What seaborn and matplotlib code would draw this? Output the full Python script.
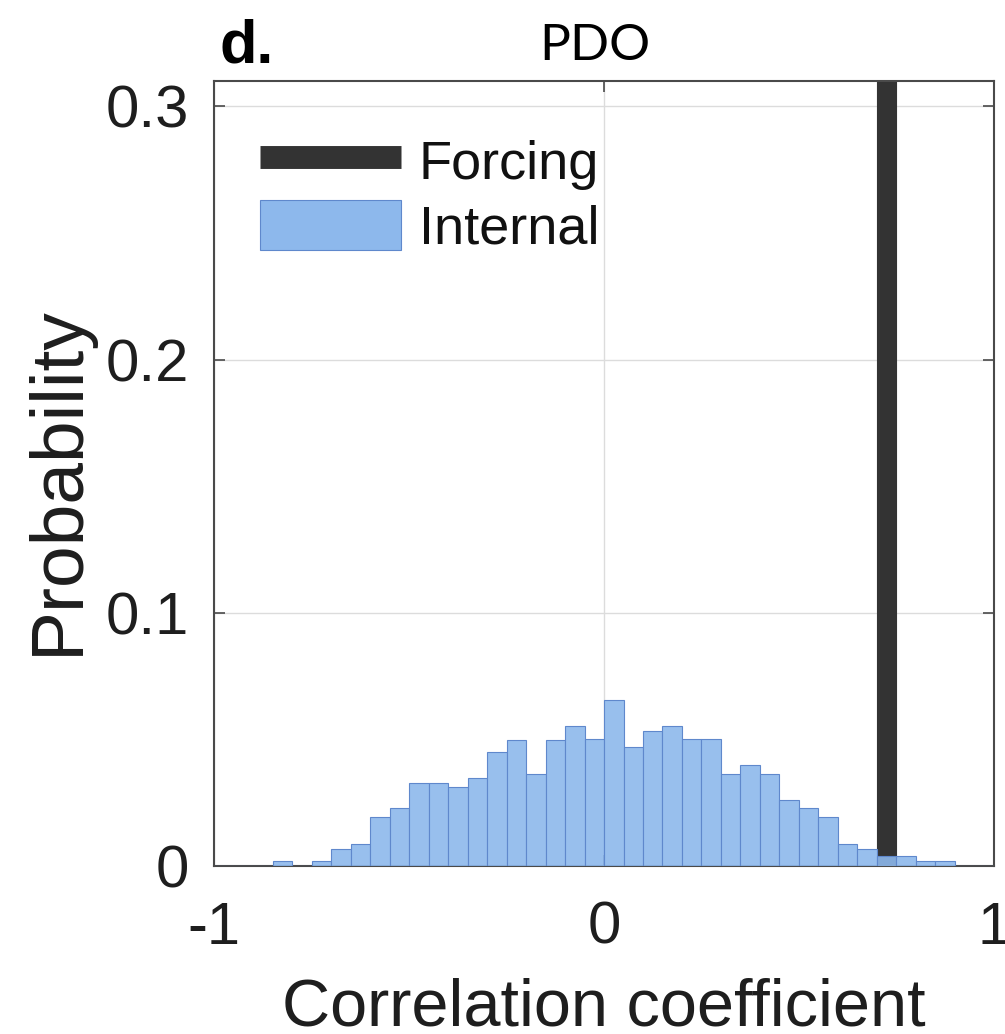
import numpy as np
import pandas as pd
import seaborn as sns
import matplotlib.pyplot as plt
from matplotlib.lines import Line2D
from matplotlib.patches import Patch

# Bin edges: 40 bins of width 0.05 on [-1, 1]
bin_edges = [round(-1.0 + 0.05 * i, 2) for i in range(41)]
bin_centers = [round((a + b) / 2, 3) for a, b in zip(bin_edges[:-1], bin_edges[1:])]

# Probability of each correlation-coefficient bin, internal variability ensemble
internal_prob = [
    0.0, 0.0, 0.0, 0.002, 0.0, 0.002, 0.0068, 0.0086, 0.0194, 0.0227,
    0.0329, 0.0329, 0.031, 0.0347, 0.0451, 0.0498, 0.0362, 0.0498, 0.0553, 0.050,
    0.0656, 0.047, 0.0534, 0.0553, 0.050, 0.050, 0.0362, 0.040, 0.0362, 0.026,
    0.0227, 0.0194, 0.0086, 0.0068, 0.004, 0.004, 0.002, 0.002, 0.0, 0.0,
]

# Forced-response correlation
forcing_r = [0.725]
forcing_prob = [1.0]

x_ticks = [-1, 0, 1]
x_tick_labels = ["-1", "0", "1"]
y_ticks = [0, 0.1, 0.2, 0.3]
y_tick_labels = ["0", "0.1", "0.2", "0.3"]

internal_df = pd.DataFrame({"r": bin_centers, "p": internal_prob})
forcing_df = pd.DataFrame({"r": forcing_r, "p": forcing_prob})

sns.set_theme(style="white")
plt.rcParams["font.family"] = ["Liberation Sans", "DejaVu Sans"]

fig = plt.figure(figsize=(10.05, 10.34), dpi=100)
ax = fig.add_axes([0.213, 0.1625, 0.776, 0.7592])

dark = "#333333"
blue_face = "#8DB8EC"
blue_edge = "#5F88CC"
text_col = "#1E1E1E"

sns.histplot(data=forcing_df, x="r", weights="p", bins=bin_edges, ax=ax,
             color=dark, edgecolor=dark, alpha=1.0, linewidth=0.8, zorder=2)
sns.histplot(data=internal_df, x="r", weights="p", bins=bin_edges, ax=ax,
             color=blue_face, edgecolor=blue_edge, alpha=0.9, linewidth=0.8, zorder=3)

ax.set_xlim(-1, 1)
ax.set_ylim(0, 0.31)
ax.set_xticks(x_ticks)
ax.set_xticklabels(x_tick_labels)
ax.set_yticks(y_ticks)
ax.set_yticklabels(y_tick_labels)
ax.grid(True, color="#DCDCDC", linewidth=1.0)
ax.set_axisbelow(True)

for s in ax.spines.values():
    s.set_visible(True)
    s.set_color("#4A4A4A")
    s.set_linewidth(1.5)

ax.tick_params(axis="both", direction="in", length=8, width=1.2, color="#4A4A4A",
               labelsize=43, labelcolor=text_col, top=True, right=True,
               bottom=True, left=True)
ax.tick_params(axis="x", pad=25)
ax.tick_params(axis="y", pad=18)

ax.set_xlabel("Correlation coefficient", fontsize=48, color=text_col)
ax.set_ylabel("Probability", fontsize=54, color=text_col)
ax.xaxis.set_label_coords(0.5, -0.1415)
ax.yaxis.set_label_coords(-0.156, 0.492)

handles = [
    Line2D([0], [0], color=dark, linewidth=16.5, solid_capstyle="butt"),
    Patch(facecolor=blue_face, edgecolor=blue_edge, linewidth=0.8),
]
leg = ax.legend(handles, ["Forcing", "Internal"], loc="upper left",
                bbox_to_anchor=(0.059, 0.931), frameon=False, fontsize=39,
                handlelength=2.6, handleheight=1.04, handletextpad=0.33,
                labelspacing=0.2, borderaxespad=0, borderpad=0)
for t in leg.get_texts():
    t.set_color("#111111")

fig.text(0.592, 0.942, "PDO", fontsize=37, family=["Lato", "DejaVu Sans"],
         ha="center", va="baseline", color="black")
fig.text(0.218, 0.94, "d.", fontsize=44, fontweight="bold",
         ha="left", va="baseline", color="black")

fig.savefig("out.png", dpi=100)
